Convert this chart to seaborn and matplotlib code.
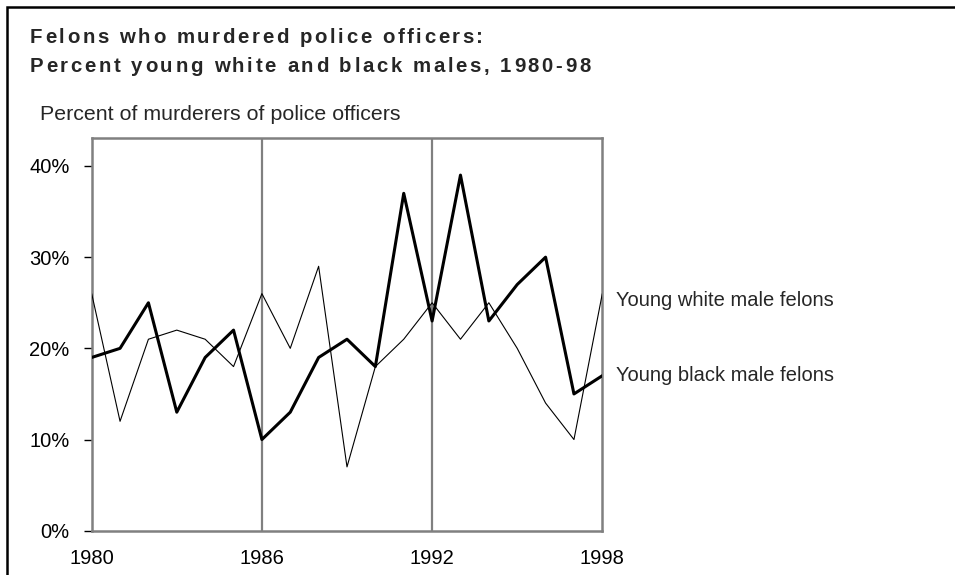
import numpy as np
import pandas as pd
import matplotlib
matplotlib.use("Agg")
import matplotlib.pyplot as plt
import seaborn as sns
from matplotlib.patches import Rectangle
from matplotlib.font_manager import FontProperties, findfont
from matplotlib.ft2font import FT2Font

# Data
years = list(range(1980, 1999))
white_pct = [26, 12, 21, 22, 21, 18, 26, 20, 29, 7, 18, 21, 25, 21, 25, 20, 14, 10, 26]
black_pct = [19, 20, 25, 13, 19, 22, 10, 13, 19, 21, 18, 37, 23, 39, 23, 27, 30, 15, 17]
x_ticks = [1980, 1986, 1992, 1998]
y_ticks = [0, 10, 20, 30, 40]
y_labels = ["0%", "10%", "20%", "30%", "40%"]

df = pd.DataFrame({"Year": years, "White": white_pct, "Black": black_pct})

sns.set_style("white")
plt.rcParams["font.family"] = ["Liberation Sans", "DejaVu Sans"]

W, H, DPI = 955, 575, 100
fig = plt.figure(figsize=(W / DPI, H / DPI), dpi=DPI)
ax = fig.add_axes([0.096, 0.077, 0.5347, 0.6835])

gray = "#808080"


def spaced_text(x_px, y_px, s, size, weight="bold", track=2.6):
    # title is letter-spaced, so place one character at a time
    path = findfont(FontProperties(family="Liberation Sans", weight=weight))
    font = FT2Font(path)
    font.set_size(size, DPI)
    x = x_px
    for ch in s:
        fig.text(x / W, 1 - y_px / H, ch, fontsize=size, fontweight=weight,
                 ha="left", va="baseline")
        g = font.load_char(ord(ch))
        x += g.linearHoriAdvance / 65536 + track


# vertical reference lines
for xv in x_ticks[1:-1]:
    ax.axvline(xv, color=gray, lw=1.6, zorder=1)

sns.lineplot(data=df, x="Year", y="White", ax=ax, color="black", lw=0.8, zorder=3)
sns.lineplot(data=df, x="Year", y="Black", ax=ax, color="black", lw=2.2, zorder=4)

ax.set_xlim(1980, 1998)
ax.set_ylim(0, 43.1)
ax.set_xticks(x_ticks)
ax.set_xticklabels([str(x) for x in x_ticks])
ax.set_yticks(y_ticks)
ax.set_yticklabels(y_labels)
ax.set_xlabel("")
ax.set_ylabel("")

for s in ax.spines.values():
    s.set_visible(True)
    s.set_color(gray)
    s.set_linewidth(1.8)

ax.tick_params(axis="y", left=True, length=6, width=1, color="black",
               direction="out", pad=10, labelsize=14.5, labelcolor="black")
ax.tick_params(axis="x", bottom=False, length=0, pad=13, labelsize=14.5,
               labelcolor="black")

# series labels at the right end
ax.annotate("Young white male felons", xy=(years[-1], white_pct[-1]),
            xytext=(10, -5), textcoords="offset points", va="center",
            ha="left", fontsize=14.5, annotation_clip=False)
ax.annotate("Young black male felons", xy=(years[-1], black_pct[-1]),
            xytext=(10, 0), textcoords="offset points", va="center",
            ha="left", fontsize=14.5, annotation_clip=False)

# titles
spaced_text(30, 43, "Felons who murdered police officers:", 14.7)
spaced_text(30, 72, "Percent young white and black males, 1980-98", 14.7)
fig.text(40 / W, 1 - 120 / H, "Percent of murderers of police officers",
         fontsize=15.4, va="baseline", ha="left")

# outer border (top and left)
fig.patches.append(Rectangle((7 / W, -0.1), 1.1, 1 - 7 / H + 0.1,
                             transform=fig.transFigure, fill=False,
                             edgecolor="black", lw=1.8, zorder=10))

fig.savefig("out.png", dpi=DPI)
